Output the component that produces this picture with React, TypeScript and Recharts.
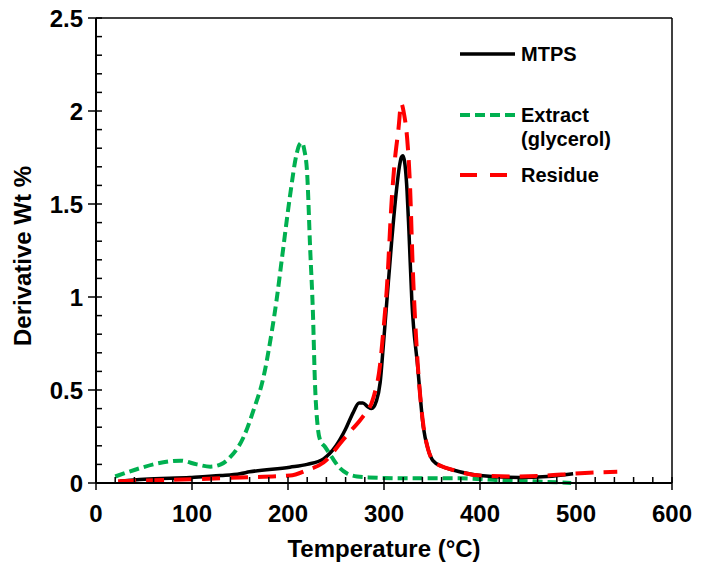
import { LineChart, Line, XAxis, YAxis, ReferenceLine, Legend, Label } from "recharts";

// MTPS (black, solid)
const mtpsTemp = [25, 50, 98, 130, 150, 160, 202, 220, 237, 250, 260, 268, 274, 278, 283, 287, 292, 296, 299, 303, 308, 313, 316, 318, 319.5, 321, 322.5, 324, 326, 329, 335, 341, 346, 351, 360, 372, 400, 441, 470, 497];
const mtpsVal = [0.01, 0.02, 0.03, 0.04, 0.05, 0.06, 0.085, 0.1, 0.13, 0.2, 0.29, 0.38, 0.43, 0.43, 0.41, 0.4, 0.44, 0.54, 0.72, 0.98, 1.3, 1.575, 1.7, 1.75, 1.76, 1.74, 1.68, 1.57, 1.35, 0.98, 0.63, 0.3, 0.18, 0.12, 0.09, 0.07, 0.04, 0.03, 0.035, 0.05];

// Extract (glycerol) (green, short dash)
const extractTemp = [20, 46, 64, 88, 105, 119, 130, 140, 154, 164, 174.5, 183, 188, 194, 202, 209, 212, 214.5, 217, 220, 223, 226, 228, 231, 233.5, 238.5, 245.5, 254, 262, 272, 284, 320, 380, 420, 450, 495];
const extractVal = [0.035, 0.08, 0.105, 0.12, 0.1, 0.088, 0.1, 0.14, 0.25, 0.39, 0.57, 0.81, 0.98, 1.22, 1.54, 1.77, 1.82, 1.83, 1.79, 1.66, 1.27, 0.91, 0.55, 0.3, 0.23, 0.195, 0.14, 0.08, 0.05, 0.035, 0.03, 0.025, 0.025, 0.015, 0.01, 0.0];

// Residue (red, long dash)
const residueTemp = [23, 60, 100, 150, 202, 220, 237, 257, 267, 277, 289, 296, 299, 303, 308, 311, 315, 318, 321, 324, 327, 330, 335, 341, 346, 351, 360, 372, 400, 441, 470, 497, 514, 543];
const residueVal = [0.01, 0.015, 0.02, 0.03, 0.04, 0.07, 0.11, 0.23, 0.29, 0.35, 0.46, 0.64, 0.8, 1.05, 1.52, 1.72, 1.9, 2.04, 1.98, 1.86, 1.61, 1.15, 0.65, 0.31, 0.18, 0.12, 0.09, 0.07, 0.04, 0.035, 0.04, 0.05, 0.055, 0.06];

const xMajor = [0, 100, 200, 300, 400, 500, 600];
const yMajor = [0, 0.5, 1, 1.5, 2, 2.5];
const xTicks = [0, 20, 40, 60, 80, 100, 120, 140, 160, 180, 200, 220, 240, 260, 280, 300, 320, 340, 360, 380, 400, 420, 440, 460, 480, 500, 520, 540, 560, 580, 600];
const yTicks = [0, 0.1, 0.2, 0.3, 0.4, 0.5, 0.6, 0.7, 0.8, 0.9, 1, 1.1, 1.2, 1.3, 1.4, 1.5, 1.6, 1.7, 1.8, 1.9, 2, 2.1, 2.2, 2.3, 2.4, 2.5];

const FONT = "'Liberation Sans', Arial, sans-serif";

const toRows = (t: number[], v: number[]) => t.map((temp, i) => ({ temp, value: v[i] }));
const mtpsData = toRows(mtpsTemp, mtpsVal);
const extractData = toRows(extractTemp, extractVal);
const residueData = toRows(residueTemp, residueVal);

function XTick({ x, y, payload }: any) {
  const v = payload.value;
  const major = xMajor.includes(v);
  return (
    <g>
      <line x1={x} x2={x} y1={y - 6} y2={major ? y + 7 : y} stroke="#000" strokeWidth={1.5} />
      {major && (
        <text x={x} y={y + 39} textAnchor="middle" fontSize={24} fontWeight="bold" fontFamily={FONT} fill="#000">
          {v}
        </text>
      )}
    </g>
  );
}

function YTick({ x, y, payload }: any) {
  const v = payload.value;
  const major = yMajor.some((m) => Math.abs(m - v) < 1e-6);
  return (
    <g>
      <line x1={major ? x - 8 : x} x2={x + 6} y1={y} y2={y} stroke="#000" strokeWidth={1.5} />
      {major && (
        <text x={x - 13} y={y + 8.5} textAnchor="end" fontSize={24} fontWeight="bold" fontFamily={FONT} fill="#000">
          {v}
        </text>
      )}
    </g>
  );
}

function LegendBox() {
  return (
    <svg width={220} height={170} style={{ display: "block" }}>
      <g fontFamily={FONT} fontWeight="bold" fontSize={20} fill="#000">
        <line x1={5} x2={60} y1={24} y2={24} stroke="#000" strokeWidth={3.5} />
        <text x={66} y={31}>MTPS</text>
        <line x1={5} x2={62} y1={85} y2={85} stroke="#00b050" strokeWidth={4} strokeDasharray="10 5" />
        <text x={66} y={92}>Extract</text>
        <text x={66} y={116}>(glycerol)</text>
        <line x1={5} x2={52} y1={145} y2={145} stroke="#ff0000" strokeWidth={4} strokeDasharray="17 13" />
        <text x={66} y={152}>Residue</text>
      </g>
    </svg>
  );
}

export default function App() {
  return (
    <div style={{ position: "absolute", left: 0, top: 0, background: "#fff" }}>
      <LineChart width={703} height={572} margin={{ top: 18, right: 31, bottom: 0, left: 0 }}>
        <XAxis
          dataKey="temp"
          type="number"
          domain={[0, 600]}
          ticks={xTicks}
          interval={0}
          height={89}
          tickSize={0}
          tickMargin={0}
          tickLine={false}
          tick={<XTick />}
          axisLine={{ stroke: "#000", strokeWidth: 2 }}
        >
          <Label
            content={({ viewBox }: any) => (
              <text
                x={viewBox.x + viewBox.width / 2}
                y={557}
                textAnchor="middle"
                fontSize={24}
                fontWeight="bold"
                fontFamily={FONT}
                fill="#000"
              >
                Temperature (°C)
              </text>
            )}
          />
        </XAxis>
        <YAxis
          type="number"
          domain={[0, 2.5]}
          ticks={yTicks}
          interval={0}
          width={96}
          tickSize={0}
          tickMargin={0}
          tickLine={false}
          tick={<YTick />}
          axisLine={{ stroke: "#000", strokeWidth: 2 }}
        >
          <Label
            content={() => (
              <text
                x={31}
                y={256}
                transform="rotate(-90, 31, 256)"
                textAnchor="middle"
                fontSize={24}
                fontWeight="bold"
                fontFamily={FONT}
                fill="#000"
              >
                Derivative Wt %
              </text>
            )}
          />
        </YAxis>
        <ReferenceLine y={2.5} stroke="#000" strokeWidth={1.5} />
        <ReferenceLine x={600} stroke="#000" strokeWidth={1.5} />
        <Legend
          layout="horizontal"
          verticalAlign="middle"
          align="center"
          wrapperStyle={{ position: "absolute", left: 455, top: 30, width: 220, height: 170 }}
          content={() => <LegendBox />}
        />
        <Line
          data={extractData}
          dataKey="value"
          name="Extract (glycerol)"
          type="monotone"
          stroke="#00b050"
          strokeWidth={4}
          strokeDasharray="10 5"
          dot={false}
          activeDot={false}
          isAnimationActive={false}
        />
        <Line
          data={mtpsData}
          dataKey="value"
          name="MTPS"
          type="monotone"
          stroke="#000"
          strokeWidth={3.5}
          dot={false}
          activeDot={false}
          isAnimationActive={false}
        />
        <Line
          data={residueData}
          dataKey="value"
          name="Residue"
          type="monotone"
          stroke="#ff0000"
          strokeWidth={4}
          strokeDasharray="18 10"
          dot={false}
          activeDot={false}
          isAnimationActive={false}
        />
      </LineChart>
    </div>
  );
}
